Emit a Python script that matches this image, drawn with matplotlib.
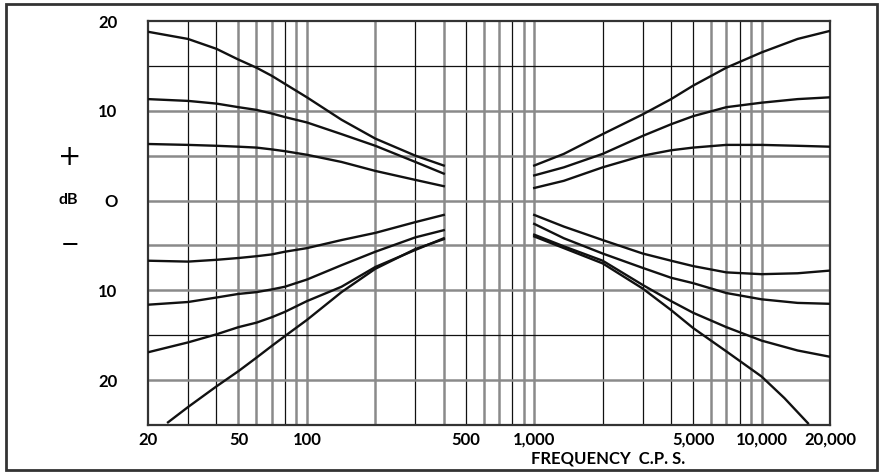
import matplotlib
matplotlib.use("Agg")
import matplotlib.pyplot as plt
from matplotlib.patches import Rectangle

# bass side
bass_f = [20, 30, 40, 50, 60, 70, 80, 100, 142, 200, 300, 400]
bass_boost = [
    [18.8, 18.0, 16.9, 15.7, 14.8, 13.9, 13.0, 11.5, 9.0, 6.9, 5.0, 3.9],
    [11.3, 11.1, 10.8, 10.4, 10.1, 9.7, 9.3, 8.7, 7.4, 6.1, 4.3, 3.0],
    [6.3, 6.2, 6.1, 6.0, 5.9, 5.7, 5.5, 5.1, 4.3, 3.3, 2.3, 1.6],
]
bass_cut = [
    [-6.7, -6.8, -6.6, -6.4, -6.2, -6.0, -5.7, -5.3, -4.4, -3.6, -2.4, -1.6],
    [-11.6, -11.3, -10.8, -10.4, -10.2, -9.9, -9.6, -8.8, -7.2, -5.7, -4.1, -3.3],
    [-16.9, -15.8, -14.9, -14.1, -13.6, -13.0, -12.4, -11.2, -9.6, -7.4, -5.5, -4.2],
]
bass_f_max = [24.5, 30, 40, 50, 60, 70, 80, 100, 142, 200, 300, 400]
bass_cut_max = [-24.7, -23.0, -20.7, -19.0, -17.5, -16.2, -15.1, -13.3, -10.2, -7.6, -5.4, -4.3]

# treble side
treb_f = [1000, 1350, 2000, 3000, 4000, 5000, 7000, 10000, 14400, 20000]
treb_boost = [
    [3.9, 5.2, 7.4, 9.6, 11.3, 12.8, 14.8, 16.5, 18.0, 18.9],
    [2.8, 3.7, 5.2, 7.2, 8.5, 9.4, 10.4, 10.9, 11.3, 11.5],
    [1.4, 2.2, 3.7, 5.0, 5.6, 5.9, 6.2, 6.2, 6.1, 6.0],
]
treb_cut = [
    [-1.6, -2.9, -4.4, -5.9, -6.7, -7.3, -8.0, -8.2, -8.1, -7.8],
    [-2.6, -4.2, -5.9, -7.5, -8.6, -9.2, -10.3, -11.0, -11.4, -11.5],
    [-3.8, -5.1, -6.7, -9.4, -11.2, -12.5, -14.1, -15.6, -16.7, -17.4],
]
treb_f_max = [1000, 1350, 2000, 3000, 4000, 5000, 7000, 10000, 12600, 16000]
treb_cut_max = [-4.0, -5.3, -7.0, -9.8, -12.2, -14.2, -16.8, -19.6, -22.0, -24.8]

xlabels_at = [20, 50, 100, 500, 1000, 5000, 10000, 20000]
xlabels = ["20", "50", "100", "500", "1,000", "5,000", "10,000", "20,000"]
ylabels_at = [20, 10, 0, -10, -20]
ylabels = ["20", "10", "O", "10", "20"]

# grid lines: some drawn thin black, the rest thick grey
dark_v = [30, 40, 80, 300, 500, 800, 2000, 3000, 4000, 5000, 8000]
grey_v = [50, 60, 70, 90, 100, 200, 400, 600, 700, 900, 1000, 6000, 7000, 9000, 10000]
dark_h = [15, -15]
grey_h = [10, 5, 0, -5, -10, -20]

fig = plt.figure(figsize=(8.82, 4.74), dpi=100)
ax = fig.add_axes([148/882, 1-425/474, (830-148)/882, (425-21)/474])
ax.set_xscale("log")
ax.set_xlim(20, 20000)
ax.set_ylim(-25, 20)

for f in grey_v:
    ax.axvline(f, color="#8a8a8a", lw=1.8, zorder=1)
for f in dark_v:
    ax.axvline(f, color="#111111", lw=0.9, zorder=1)
for d in grey_h:
    ax.axhline(d, color="#8a8a8a", lw=1.8, zorder=1)
for d in dark_h:
    ax.axhline(d, color="#111111", lw=0.9, zorder=1)

for ys in bass_boost + bass_cut:
    ax.plot(bass_f, ys, color="#111111", lw=1.7, zorder=3)
ax.plot(bass_f_max, bass_cut_max, color="#111111", lw=1.7, zorder=3)
for ys in treb_boost + treb_cut:
    ax.plot(treb_f, ys, color="#111111", lw=1.7, zorder=3)
ax.plot(treb_f_max, treb_cut_max, color="#111111", lw=1.7, zorder=3)

for s in ax.spines.values():
    s.set_color("#333333")
    s.set_linewidth(1.6)

ax.set_xticks(xlabels_at)
ax.set_xticklabels(xlabels)
ax.set_xticks([], minor=True)
ax.set_yticks(ylabels_at)
ax.set_yticklabels(ylabels)
ax.tick_params(length=0)
ax.tick_params(axis="x", pad=5)
ax.tick_params(axis="y", pad=22)
for t in ax.get_xticklabels() + ax.get_yticklabels():
    t.set_fontfamily("Lato")
    t.set_fontweight("bold")
    t.set_fontsize(12)

fig.text(608/882, 1-458/474, "FREQUENCY  C.P. S.", ha="center", va="center",
         fontsize=12, fontweight="bold", family="Lato")
fig.text(70/882, 1-157/474, "+", ha="center", va="center", fontsize=20, family="DejaVu Sans")
fig.text(68/882, 1-200/474, "dB", ha="center", va="center", fontsize=11.5,
         fontweight="bold", family="Lato")
fig.text(70/882, 1-244/474, "\u2014", ha="center", va="center", fontsize=15,
         fontweight="bold", family="Lato")

fig.patches.append(Rectangle((6/882, 4/474), 871/882, 466/474, transform=fig.transFigure,
                             fill=False, edgecolor="#333333", lw=2))

fig.savefig("out.png", dpi=100)
